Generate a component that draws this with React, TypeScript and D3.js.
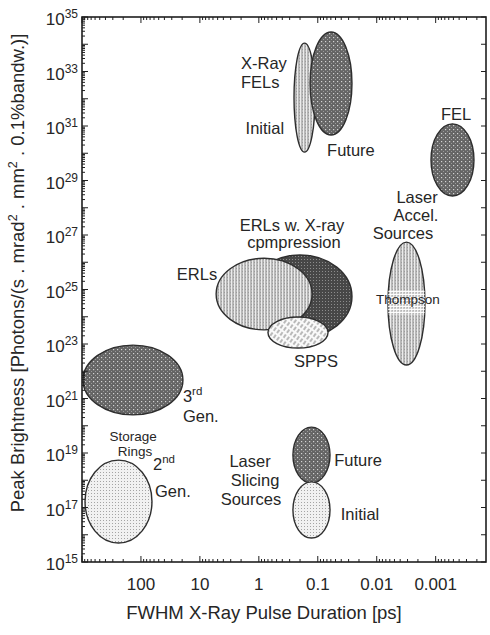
import React from "react";
import * as d3 from "d3";

const WIDTH = 490;
const HEIGHT = 635;

// Pulse-duration axis (ps), reversed: long pulses on the left
const durationTicks = [100, 10, 1, 0.1, 0.01, 0.001];
const durationTickLabels = ["100", "10", "1", "0.1", "0.01", "0.001"];
// Brightness axis: labelled decades (powers of ten)
const brightnessLabelExponents = [15, 17, 19, 21, 23, 25, 27, 29, 31, 33, 35];

// Source regions in drawing order
const regionNames = [
  "2nd Gen. storage rings",
  "3rd Gen. storage rings",
  "Laser slicing (future)",
  "Laser slicing (initial)",
  "ERLs w. X-ray compression",
  "ERLs",
  "SPPS",
  "Thompson",
  "X-ray FELs (initial)",
  "X-ray FELs (future)",
  "Laser accel. FEL",
];
// Pulse duration range of each region [ps]
const regionDuration: [number, number][] = [
  [65, 889],
  [19.4, 962],
  [0.062, 0.264],
  [0.062, 0.264],
  [0.0263, 1.53],
  [0.125, 5.3],
  [0.067, 0.7],
  [0.00152, 0.00644],
  [0.111, 0.253],
  [0.0263, 0.135],
  [2.24e-4, 0.0012],
];
// Peak brightness range of each region
const regionBrightness: [number, number][] = [
  [5e15, 5.5e18],
  [2.5e20, 9.1e22],
  [7.9e17, 8.9e19],
  [7.6e15, 8.7e17],
  [1.66e23, 1.85e26],
  [3.3e23, 1.4e26],
  [7.1e22, 9.8e23],
  [1.7e22, 5.5e26],
  [1.1e30, 1.1e34],
  [4.7e30, 2.8e34],
  [2.7e28, 1.2e31],
];
// Brightness band of the Thompson source overlay
const thompsonBand: [number, number] = [1.16e24, 9.6e24];

// Fill pattern per region (style)
const regionFill = [
  "url(#pat-light)",
  "url(#pat-dark)",
  "url(#pat-dark)",
  "url(#pat-light)",
  "url(#pat-darker)",
  "url(#pat-stripes)",
  "url(#pat-hatch)",
  "url(#pat-stripes)",
  "url(#pat-stripes)",
  "url(#pat-dark)",
  "url(#pat-dark)",
];

// Annotation text anchored at (duration, brightness); "a|b" = a with superscript b
const labelText = [
  "X-Ray", "FELs", "Initial", "Future", "FEL", "Laser", "Accel.", "Sources",
  "ERLs w. X-ray", "cpmpression", "ERLs", "Thompson", "SPPS", "3|rd", "Gen.",
  "Storage", "Rings", "2|nd", "Gen.", "Laser", "Slicing", "Sources", "Future", "Initial",
];
const labelDuration = [
  0.82, 0.95, 0.79, 0.0274, 4.5e-4, 0.00207, 0.00216, 0.00359,
  0.274, 0.254, 11.2, 0.00295, 0.107, 19.4, 19.4,
  136, 126, 62.5, 57.8, 1.41, 1.16, 1.36, 0.0208, 0.0192,
];
const labelBrightness = [
  1.2e33, 2.4e32, 5.1e30, 8e29, 1.66e31, 1.5e28, 3.2e27, 7.1e26,
  1.45e27, 3.3e26, 2.2e25, 2.9e24, 1.4e22, 7.4e20, 1.4e20,
  2.8e19, 7.8e18, 2.4e18, 2.5e17, 3.1e18, 6.2e17, 1.2e17, 3.3e18, 3.5e16,
];
const smallLabels = new Set(["Storage", "Rings", "Thompson"]);
const startAnchored = new Set([13, 14, 17, 18]);

const FONT = "'Liberation Sans', Arial, Helvetica, sans-serif";
const INK = "#262626";

export default function App() {
  const x = d3.scaleLog().domain([1000, 1.4e-4]).range([82, 486]);
  const y = d3.scaleLog().domain([1e15, 1e35]).range([562, 17]);
  const [x0, x1] = x.range();
  const [y0, y1] = y.range();

  // Axis ticks: decades plus 2..9 minor ticks
  const xMajor: number[] = [];
  const xMinor: number[] = [];
  for (let e = -4; e <= 3; e++) {
    const d = Math.pow(10, e);
    if (d <= 1000 && d >= 1.4e-4) xMajor.push(d);
    for (let k = 2; k <= 9; k++) {
      const v = k * d;
      if (v < 1000 && v > 1.4e-4) xMinor.push(v);
    }
  }
  const yMajor: number[] = [];
  const yMinor: number[] = [];
  for (let e = 15; e <= 35; e++) {
    yMajor.push(Math.pow(10, e));
    if (e < 35) for (let k = 2; k <= 9; k++) yMinor.push(k * Math.pow(10, e));
  }

  const ellipses = regionNames.map((name, i) => {
    const [da, db] = regionDuration[i];
    const [ba, bb] = regionBrightness[i];
    return {
      name,
      cx: (x(da) + x(db)) / 2,
      cy: (y(ba) + y(bb)) / 2,
      rx: Math.abs(x(da) - x(db)) / 2,
      ry: Math.abs(y(ba) - y(bb)) / 2,
      fill: regionFill[i],
    };
  });
  const thompson = ellipses[regionNames.indexOf("Thompson")];

  return (
    <svg
      width={WIDTH}
      height={HEIGHT}
      style={{ position: "absolute", left: 0, top: 0, background: "#fff" }}
      fontFamily={FONT}
    >
      <defs>
        <pattern id="pat-dark" width="4" height="4" patternUnits="userSpaceOnUse">
          <rect width="4" height="4" fill="#656565" />
          <rect x="1" y="1" width="1.2" height="1.2" fill="#d4d4d4" />
          <rect x="3" y="3" width="1" height="1" fill="#9a9a9a" />
        </pattern>
        <pattern id="pat-darker" width="3" height="3" patternUnits="userSpaceOnUse">
          <rect width="3" height="3" fill="#474747" />
          <rect x="1" y="1" width="1" height="1" fill="#8c8c8c" />
        </pattern>
        <pattern id="pat-stripes" width="3" height="3" patternUnits="userSpaceOnUse">
          <rect width="3" height="3" fill="#b8b8b8" />
          <rect x="0" y="0" width="1" height="3" fill="#ececec" />
          <rect x="2" y="1" width="1" height="1" fill="#9c9c9c" />
        </pattern>
        <pattern id="pat-light" width="3" height="3" patternUnits="userSpaceOnUse">
          <rect width="3" height="3" fill="#f1f1f1" />
          <rect x="1" y="1" width="1" height="1" fill="#a4a4a4" />
        </pattern>
        <pattern
          id="pat-hatch"
          width="6"
          height="4"
          patternUnits="userSpaceOnUse"
          patternTransform="rotate(-55)"
        >
          <rect width="6" height="4" fill="#f9f9f9" />
          <line x1="0" y1="2" x2="4" y2="2" stroke="#7a7a7a" strokeWidth="1" />
        </pattern>
        <pattern id="pat-hlines" width="4" height="3" patternUnits="userSpaceOnUse">
          <rect width="4" height="3" fill="rgba(255,255,255,0.25)" />
          <rect x="0" y="0" width="4" height="1" fill="rgba(255,255,255,0.95)" />
        </pattern>
        <clipPath id="clip-thompson">
          <ellipse cx={thompson.cx} cy={thompson.cy} rx={thompson.rx} ry={thompson.ry} />
        </clipPath>
      </defs>

      {/* source regions */}
      <g stroke="#2e2e2e" strokeWidth={1.4}>
        {ellipses.map((e) => (
          <React.Fragment key={e.name}>
            <ellipse cx={e.cx} cy={e.cy} rx={e.rx} ry={e.ry} fill={e.fill} />
            {e.name === "Thompson" && (
              <rect
                clipPath="url(#clip-thompson)"
                x={e.cx - e.rx}
                width={e.rx * 2}
                y={y(thompsonBand[1])}
                height={y(thompsonBand[0]) - y(thompsonBand[1])}
                fill="url(#pat-hlines)"
                stroke="none"
              />
            )}
          </React.Fragment>
        ))}
      </g>

      {/* annotations */}
      <g fill={INK}>
        {labelText.map((t, i) => {
          const [main, sup] = t.split("|");
          const fs = smallLabels.has(t) ? 13.5 : 16.5;
          return (
            <text
              key={i}
              x={x(labelDuration[i])}
              y={y(labelBrightness[i])}
              fontSize={fs}
              textAnchor={startAnchored.has(i) ? "start" : "middle"}
            >
              {main}
              {sup && (
                <tspan fontSize={11.5} dy={-7}>
                  {sup}
                </tspan>
              )}
            </text>
          );
        })}
      </g>

      {/* frame */}
      <rect
        x={x0}
        y={y1}
        width={x1 - x0}
        height={y0 - y1}
        fill="none"
        stroke="#1e1e1e"
        strokeWidth={1.6}
      />

      {/* ticks */}
      <g stroke="#1e1e1e" strokeWidth={1}>
        {xMajor.map((v) => (
          <React.Fragment key={"xM" + v}>
            <line x1={x(v)} x2={x(v)} y1={y0} y2={y0 - 6} />
            <line x1={x(v)} x2={x(v)} y1={y1} y2={y1 + 6} />
          </React.Fragment>
        ))}
        {xMinor.map((v) => (
          <React.Fragment key={"xm" + v}>
            <line x1={x(v)} x2={x(v)} y1={y0} y2={y0 - 3} />
            <line x1={x(v)} x2={x(v)} y1={y1} y2={y1 + 3} />
          </React.Fragment>
        ))}
        {yMajor.map((v) => (
          <React.Fragment key={"yM" + v}>
            <line x1={x0} x2={x0 + 6} y1={y(v)} y2={y(v)} />
            <line x1={x1} x2={x1 - 5} y1={y(v)} y2={y(v)} />
          </React.Fragment>
        ))}
        {yMinor.map((v) => (
          <line key={"ym" + v} x1={x0} x2={x0 + 3} y1={y(v)} y2={y(v)} />
        ))}
      </g>

      {/* x tick labels */}
      <g fill={INK} fontSize={17} textAnchor="middle">
        {durationTicks.map((v, i) => (
          <text key={v} x={x(v)} y={590}>
            {durationTickLabels[i]}
          </text>
        ))}
      </g>

      {/* y tick labels */}
      <g fill={INK}>
        {brightnessLabelExponents.map((e) => {
          const ty = y(Math.pow(10, e));
          return (
            <text key={e} x={78} y={ty + 8} textAnchor="end" fontSize={17}>
              10
              <tspan fontSize={12} dy={-7}>
                {e}
              </tspan>
            </text>
          );
        })}
      </g>

      {/* axis titles */}
      <text x={264} y={619} textAnchor="middle" fontSize={18.5} fill={INK}>
        FWHM X-Ray Pulse Duration [ps]
      </text>
      <text
        transform={`translate(24, 273) rotate(-90)`}
        textAnchor="middle"
        fontSize={18.5}
        fill={INK}
      >
        Peak Brightness [Photons/(s . mrad
        <tspan fontSize={12.5} dy={-7}>2</tspan>
        <tspan dy={7}> . mm</tspan>
        <tspan fontSize={12.5} dy={-7}>2</tspan>
        <tspan dy={7}> . 0.1%bandw.)]</tspan>
      </text>
    </svg>
  );
}
